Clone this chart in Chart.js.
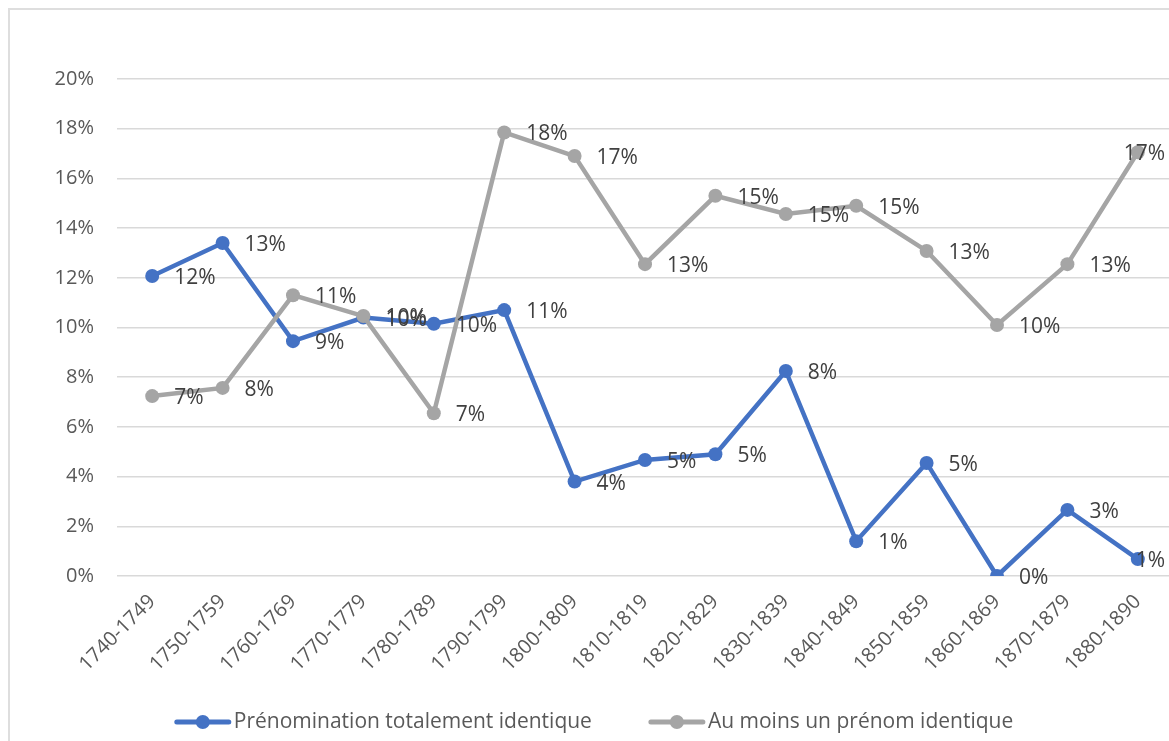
<!DOCTYPE html>
<html>
<head>
<meta charset="utf-8">
<script src="https://cdn.jsdelivr.net/npm/chart.js@4"></script>
<style>
  html, body { margin: 0; padding: 0; background: #fff; overflow: hidden; }
  #frame { position: absolute; left: 8px; top: 8px; width: 1200px; height: 800px;
           border: 2px solid #dedede; box-sizing: border-box; }
  #wrap { position: absolute; left: 0; top: 0; width: 1180px; height: 741px; }
</style>
</head>
<body>
<div id="frame"></div>
<div id="wrap"><canvas id="chart" width="1180" height="741"></canvas></div>
<script>
// Part des couples de frères/soeurs portant un prénom identique, par décennie.
const DECADES = ["1740-1749", "1750-1759", "1760-1769", "1770-1779", "1780-1789",
                 "1790-1799", "1800-1809", "1810-1819", "1820-1829", "1830-1839",
                 "1840-1849", "1850-1859", "1860-1869", "1870-1879", "1880-1890"];
const TOTAL = [12.07, 13.4, 9.45, 10.4, 10.15, 10.7, 3.8, 4.67, 4.9, 8.25,
               1.4, 4.55, 0, 2.66, 0.68];
const AU_MOINS_UN = [7.24, 7.57, 11.3, 10.46, 6.55, 17.85, 16.9, 12.55, 15.3, 14.57,
                     14.9, 13.08, 10.1, 12.55, 17.05];
const Y_TICKS = [0, 2, 4, 6, 8, 10, 12, 14, 16, 18, 20];

const BLUE = "#4472c4", GREY = "#a5a5a5", TXT = "#595959";
const FONT = "'Open Sans', 'Noto Sans', sans-serif";
const VIEW_W = 1169; // visible width of the picture

const pointLabels = {
  id: "pointLabels",
  afterDatasetsDraw(chart) {
    const ctx = chart.ctx;
    ctx.save();
    ctx.font = `21px ${FONT}`;
    ctx.fillStyle = "#404040";
    ctx.textBaseline = "middle";
    chart.data.datasets.forEach((ds, i) => {
      chart.getDatasetMeta(i).data.forEach((pt, j) => {
        const txt = Math.round(ds.data[j]) + "%";
        const w = ctx.measureText(txt).width;
        let x = pt.x + 22;
        if (x + w > VIEW_W - 4) x = VIEW_W - 4 - w;
        ctx.fillText(txt, x, pt.y + 2);
      });
    });
    ctx.restore();
  },
};

// bottom legend drawn by hand: line + dot marker, then the label
const lineLegend = {
  id: "lineLegend",
  afterDraw(chart) {
    const ctx = chart.ctx;
    ctx.save();
    ctx.font = `21px ${FONT}`;
    ctx.textBaseline = "middle";
    const y = 722, mw = 56, gap = 57;
    const items = chart.data.datasets.map((d) => ({
      color: d.borderColor, text: d.label, w: mw + 3 + ctx.measureText(d.label).width }));
    const total = items.reduce((s, it) => s + it.w, 0) + gap * (items.length - 1);
    let x = 594 - total / 2;
    items.forEach((it) => {
      ctx.strokeStyle = it.color; ctx.fillStyle = it.color;
      ctx.lineWidth = 5; ctx.lineCap = "round";
      ctx.beginPath(); ctx.moveTo(x + 2, y); ctx.lineTo(x + mw - 2, y); ctx.stroke();
      ctx.beginPath(); ctx.arc(x + mw / 2, y, 7, 0, Math.PI * 2); ctx.fill();
      ctx.fillStyle = TXT;
      ctx.fillText(it.text, x + mw + 3, y);
      x += it.w + gap;
    });
    ctx.restore();
  },
};

const series = (label, data, color, order) => ({
  label, data, order,
  borderColor: color, backgroundColor: color,
  borderWidth: 4.5, pointRadius: 7, pointHoverRadius: 7,
  pointBorderWidth: 0, pointStyle: "circle", tension: 0,
});

new Chart(document.getElementById("chart"), {
  type: "line",
  data: {
    labels: DECADES,
    datasets: [
      series("Prénomination totalement identique", TOTAL, BLUE, 1),
      series("Au moins un prénom identique", AU_MOINS_UN, GREY, 0),
    ],
  },
  plugins: [pointLabels, lineLegend],
  options: {
    responsive: false,
    animation: false,
    layout: { padding: { top: 79, right: 0, left: 0, bottom: 0 } },
    scales: {
      x: {
        offset: true,
        grid: { display: false },
        border: { display: false },
        ticks: { color: TXT, font: { family: FONT, size: 20 }, minRotation: 45, maxRotation: 45,
                 autoSkip: false, padding: 6 },
        afterFit: (s) => { s.height = 165; },
      },
      y: {
        min: 0, max: 20,
        afterBuildTicks: (s) => { s.ticks = Y_TICKS.map((v) => ({ value: v })); },
        grid: { color: "#d9d9d9", lineWidth: 1.5, drawTicks: false },
        border: { display: false },
        ticks: { color: TXT, font: { family: FONT, size: 20 }, padding: 23,
                 callback: (v) => v + "%" },
        afterFit: (s) => { s.width = 117; },
      },
    },
    plugins: {
      tooltip: { enabled: false },
      legend: { display: false },
    },
  },
});
</script>
</body>
</html>
